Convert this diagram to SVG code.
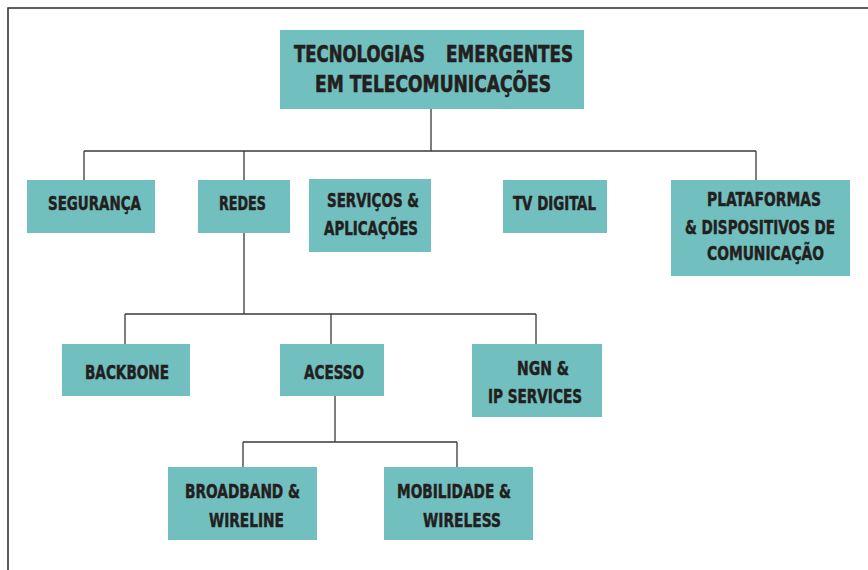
<svg xmlns="http://www.w3.org/2000/svg" width="868" height="570" viewBox="0 0 868 570">
  <style>
    .box { fill: #72bfbf; }
    .lbl { font-family: "DejaVu Sans Condensed", "DejaVu Sans", "Liberation Sans", sans-serif; font-weight: bold; font-size: 20px; fill: #231f20; stroke: #231f20; stroke-width: 0.5; }
    .ttl { font-size: 23px; stroke-width: 0.6; }
    .wire { fill: none; stroke: #3a3a3a; stroke-width: 1.3; }
    .frame { fill: none; stroke: #2a2a2a; stroke-width: 1.5; }
  </style>

  <!-- page frame -->
  <path class="frame" d="M8,570 V8 H868"/>

  <!-- tree connectors -->
  <g id="connectors">
    <path class="wire" d="M431,109 V151 M84,151 H756 M84,151 V180 M244,151 V180 M756,151 V180"/>
    <path class="wire" d="M244,233 V314 M125,314 H536 M125,314 V344 M331,314 V344 M536,314 V344"/>
    <path class="wire" d="M335,396 V442 M243,442 H457 M243,442 V467 M457,442 V467"/>
  </g>

  <g id="root">
    <rect class="box" x="280" y="30" width="304" height="79"/>
    <text class="lbl ttl" y="61.5"><tspan x="294" textLength="131" lengthAdjust="spacingAndGlyphs">TECNOLOGIAS</tspan><tspan x="446" textLength="127" lengthAdjust="spacingAndGlyphs">EMERGENTES</tspan></text>
    <text class="lbl ttl" x="315" y="92" textLength="236" lengthAdjust="spacingAndGlyphs">EM TELECOMUNICAÇÕES</text>
  </g>

  <g id="seguranca">
    <rect class="box" x="27" y="180" width="128" height="53"/>
    <text class="lbl" x="48" y="210" textLength="93" lengthAdjust="spacingAndGlyphs">SEGURANÇA</text>
  </g>

  <g id="redes">
    <rect class="box" x="198" y="180" width="92" height="53"/>
    <text class="lbl" x="219" y="210" textLength="47" lengthAdjust="spacingAndGlyphs">REDES</text>
  </g>

  <g id="servicos">
    <rect class="box" x="309" y="179" width="122" height="73"/>
    <text class="lbl" x="327" y="207" textLength="92" lengthAdjust="spacingAndGlyphs">SERVIÇOS &amp;</text>
    <text class="lbl" x="324" y="235" textLength="94" lengthAdjust="spacingAndGlyphs">APLICAÇÕES</text>
  </g>

  <g id="tv-digital">
    <rect class="box" x="503" y="180" width="104" height="53"/>
    <text class="lbl" x="513" y="210" textLength="83" lengthAdjust="spacingAndGlyphs">TV DIGITAL</text>
  </g>

  <g id="plataformas">
    <rect class="box" x="671" y="180" width="179" height="96"/>
    <text class="lbl" x="707" y="206" textLength="114" lengthAdjust="spacingAndGlyphs">PLATAFORMAS</text>
    <text class="lbl" x="685" y="234" textLength="150" lengthAdjust="spacingAndGlyphs">&amp; DISPOSITIVOS DE</text>
    <text class="lbl" x="707" y="260" textLength="117" lengthAdjust="spacingAndGlyphs">COMUNICAÇÃO</text>
  </g>

  <g id="backbone">
    <rect class="box" x="62" y="344" width="128" height="52"/>
    <text class="lbl" x="85" y="379" textLength="84" lengthAdjust="spacingAndGlyphs">BACKBONE</text>
  </g>

  <g id="acesso">
    <rect class="box" x="280" y="344" width="104" height="52"/>
    <text class="lbl" x="304" y="379" textLength="60" lengthAdjust="spacingAndGlyphs">ACESSO</text>
  </g>

  <g id="ngn">
    <rect class="box" x="472" y="344" width="130" height="73"/>
    <text class="lbl" x="517" y="375" textLength="52" lengthAdjust="spacingAndGlyphs">NGN &amp;</text>
    <text class="lbl" x="488" y="403" textLength="94" lengthAdjust="spacingAndGlyphs">IP SERVICES</text>
  </g>

  <g id="broadband">
    <rect class="box" x="168" y="467" width="149" height="73"/>
    <text class="lbl" x="185" y="498" textLength="115" lengthAdjust="spacingAndGlyphs">BROADBAND &amp;</text>
    <text class="lbl" x="209" y="527" textLength="75" lengthAdjust="spacingAndGlyphs">WIRELINE</text>
  </g>

  <g id="mobilidade">
    <rect class="box" x="384" y="467" width="149" height="73"/>
    <text class="lbl" x="397" y="498" textLength="114" lengthAdjust="spacingAndGlyphs">MOBILIDADE &amp;</text>
    <text class="lbl" x="423" y="527" textLength="78" lengthAdjust="spacingAndGlyphs">WIRELESS</text>
  </g>
</svg>
